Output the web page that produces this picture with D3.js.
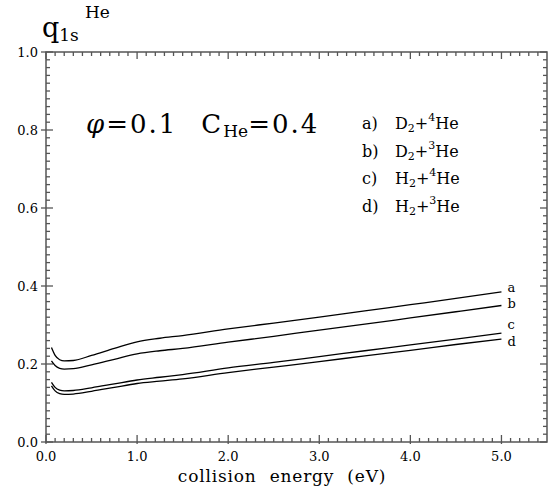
<!DOCTYPE html>
<html>
<head>
<meta charset="utf-8">
<script src="https://cdn.jsdelivr.net/npm/d3@7"></script>
<style>
  body { margin: 0; background: #fff; }
  text { font-family: "DejaVu Serif", "Liberation Serif", serif; fill: #000; }
</style>
</head>
<body>
<div id="chart"></div>
<script>
// collision energy (eV)
const energy = [0.06, 0.1, 0.15, 0.2, 0.3, 0.5, 0.75, 1.0, 1.25, 1.5, 2.0, 2.5, 3.0, 3.5, 4.0, 4.5, 5.0];
// q_1s^He for each system
const seriesA = [0.242, 0.222, 0.211, 0.208, 0.209, 0.222, 0.240, 0.257, 0.266, 0.273, 0.290, 0.305, 0.320, 0.336, 0.352, 0.368, 0.385];
const seriesB = [0.208, 0.196, 0.189, 0.187, 0.188, 0.198, 0.212, 0.226, 0.234, 0.240, 0.256, 0.271, 0.287, 0.302, 0.318, 0.334, 0.350];
const seriesC = [0.153, 0.140, 0.133, 0.131, 0.132, 0.139, 0.149, 0.159, 0.166, 0.173, 0.190, 0.204, 0.219, 0.234, 0.249, 0.264, 0.279];
const seriesD = [0.144, 0.131, 0.124, 0.122, 0.123, 0.130, 0.140, 0.150, 0.156, 0.162, 0.178, 0.192, 0.206, 0.221, 0.235, 0.250, 0.264];
const seriesNames = ["a", "b", "c", "d"];
const legendLabels = [
    ["a)", "D", "4"],
    ["b)", "D", "3"],
    ["c)", "H", "4"],
    ["d)", "H", "3"]
];
const xTicks = [0, 1, 2, 3, 4, 5];
const yTicks = [0, 0.2, 0.4, 0.6, 0.8, 1.0];

const width = 549, height = 495;
const margin = { top: 52, right: 2, bottom: 53, left: 46 };

const svg = d3.select("#chart")
    .append("svg")
    .attr("width", width)
    .attr("height", height);

const x = d3.scaleLinear().domain([0, 5.5]).range([margin.left, width - margin.right]);
const y = d3.scaleLinear().domain([0, 1.0]).range([height - margin.bottom, margin.top]);

const axisColor = "#555";

// frame
svg.append("rect")
    .attr("x", x(0)).attr("y", y(1))
    .attr("width", x(5.5) - x(0)).attr("height", y(0) - y(1))
    .attr("fill", "none").attr("stroke", axisColor).attr("stroke-width", 1.5);

// x ticks (bottom + top)
const xMinor = d3.range(0, 55).map(i => i / 10);
xMinor.forEach(v => {
    const major = Math.abs(v - Math.round(v)) < 1e-6;
    const len = major ? 7 : 4;
    svg.append("line")
        .attr("x1", x(v)).attr("x2", x(v))
        .attr("y1", y(0) + (major ? 2 : 0)).attr("y2", y(0) - len)
        .attr("stroke", axisColor).attr("stroke-width", 1.3);
    svg.append("line")
        .attr("x1", x(v)).attr("x2", x(v))
        .attr("y1", y(1)).attr("y2", y(1) + len)
        .attr("stroke", axisColor).attr("stroke-width", 1.3);
});

// y ticks (left + right)
const yMinor = d3.range(0, 51).map(i => i / 50);
yMinor.forEach(v => {
    const major = Math.abs(v * 5 - Math.round(v * 5)) < 1e-6;
    const len = major ? 7 : 4;
    svg.append("line")
        .attr("x1", x(0) - (major ? 5 : 0)).attr("x2", x(0) + len)
        .attr("y1", y(v)).attr("y2", y(v))
        .attr("stroke", axisColor).attr("stroke-width", 1.3);
    svg.append("line")
        .attr("x1", x(5.5)).attr("x2", x(5.5) - len)
        .attr("y1", y(v)).attr("y2", y(v))
        .attr("stroke", axisColor).attr("stroke-width", 1.3);
});

// tick labels
svg.selectAll(".xlab")
    .data(xTicks)
    .join("text")
    .attr("x", d => x(d))
    .attr("y", y(0) + 19)
    .attr("text-anchor", "middle")
    .style("font-size", "13px")
    .text(d => d3.format(".1f")(d));

svg.selectAll(".ylab")
    .data(yTicks)
    .join("text")
    .attr("x", x(0) - 8)
    .attr("y", d => y(d) + 5)
    .attr("text-anchor", "end")
    .style("font-size", "13px")
    .text(d => d3.format(".1f")(d));

// x axis title
svg.append("text")
    .attr("x", 282)
    .attr("y", 482)
    .attr("text-anchor", "middle")
    .style("font-size", "17px")
    .style("word-spacing", "7px")
    .style("letter-spacing", "0.8px")
    .text("collision energy (eV)");

// y axis title q_1s^He
const yt = svg.append("text").attr("x", 42).attr("y", 37);
yt.append("tspan").style("font-size", "27px").text("q");
yt.append("tspan").attr("dy", 4).style("font-size", "17px").text("1s");
svg.append("text").attr("x", 85).attr("y", 18).style("font-size", "17px").text("He");

// curves
const allSeries = [seriesA, seriesB, seriesC, seriesD];
const line = d3.line()
    .x(d => x(d[0]))
    .y(d => y(d[1]))
    .curve(d3.curveMonotoneX);

svg.selectAll(".curve")
    .data(allSeries)
    .join("path")
    .attr("d", s => line(energy.map((e, i) => [e, s[i]])))
    .attr("fill", "none")
    .attr("stroke", "#000")
    .attr("stroke-width", 1.3);

const labelOffsets = [-3, -1, -7, 4];
svg.selectAll(".clab")
    .data(allSeries)
    .join("text")
    .attr("x", x(5.0) + 6)
    .attr("y", (s, i) => y(s[s.length - 1]) + 3 + labelOffsets[i])
    .style("font-size", "13px")
    .text((s, i) => seriesNames[i]);

// annotation phi=0.1  C_He=0.4
const ann = svg.append("text").attr("x", 86).attr("y", 133)
    .style("font-size", "26px").style("letter-spacing", "2px");
ann.append("tspan").style("font-style", "italic").text("φ");
ann.append("tspan").text("=0.1");
ann.append("tspan").attr("dx", 24).text("C");
ann.append("tspan").attr("dy", 4).style("font-size", "17px").style("letter-spacing", "0px").text("He");
ann.append("tspan").attr("dy", -4).text("=0.4");

// legend
legendLabels.forEach((l, i) => {
    const t = svg.append("text")
        .attr("x", 362)
        .attr("y", 129 + i * 27.7)
        .style("font-size", "16px");
    t.append("tspan").text(l[0]);
    t.append("tspan").attr("x", 395).text(l[1]);
    t.append("tspan").attr("dy", 3).style("font-size", "11px").text("2");
    t.append("tspan").attr("dy", -3).text("+");
    t.append("tspan").attr("dy", -8).style("font-size", "11px").text(l[2]);
    t.append("tspan").attr("dy", 8).text("He");
});
</script>
</body>
</html>
